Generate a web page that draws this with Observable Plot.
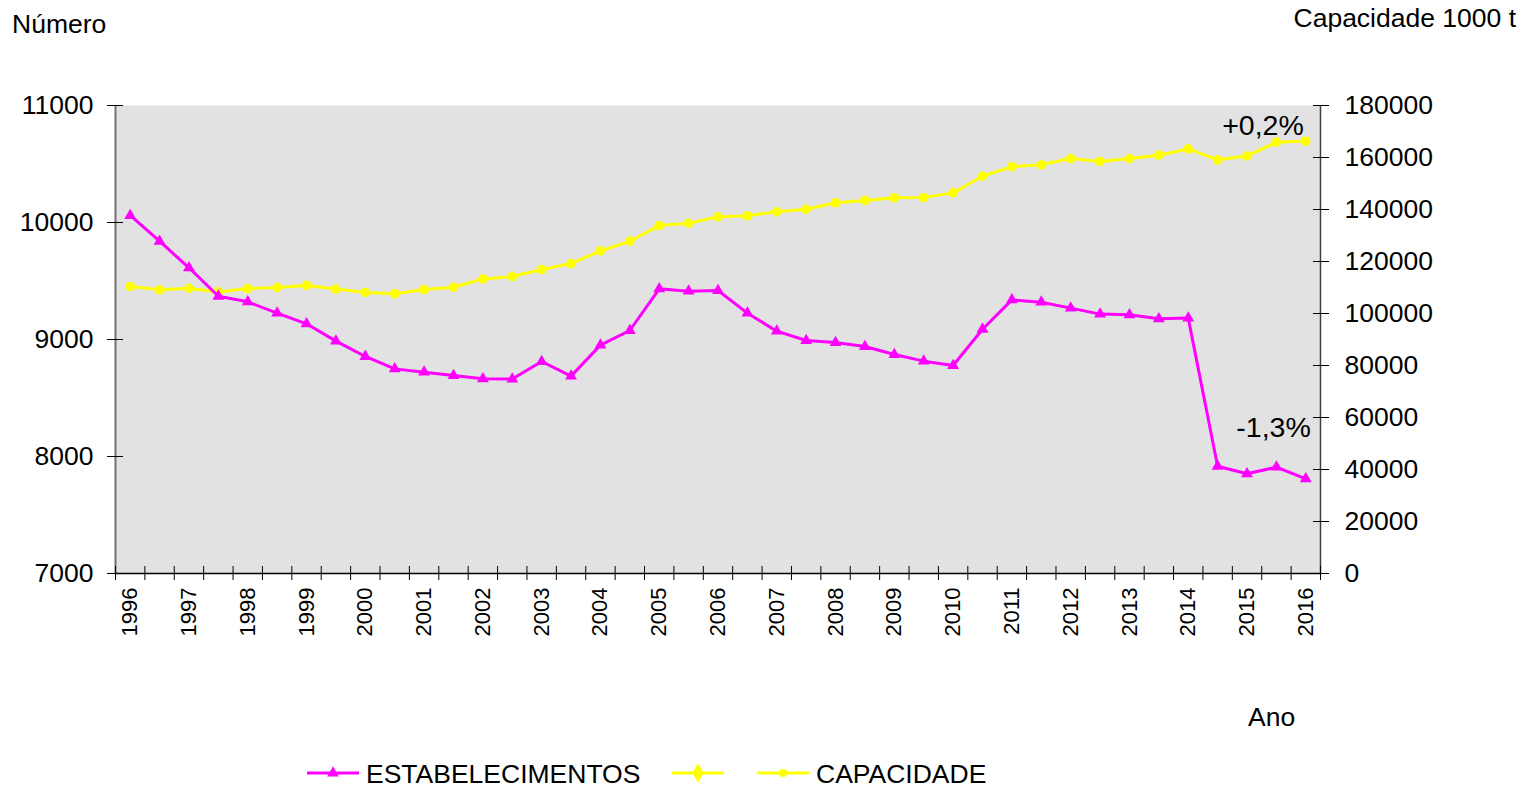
<!DOCTYPE html>
<html><head><meta charset="utf-8">
<script src="https://cdn.jsdelivr.net/npm/d3@7"></script>
<script src="https://cdn.jsdelivr.net/npm/@observablehq/plot@0.6"></script>
<style>
body{margin:0;background:#fff;font-family:"Liberation Sans",Arial,sans-serif;}
#wrap{position:relative;width:1537px;height:788px;overflow:hidden;background:#fff}
#wrap svg{position:absolute;left:0;top:0}
</style></head><body><div id="wrap"></div>
<script>
// Tick labels (one per year, every second semi-annual period)
const yearLabels = ["1996","1997","1998","1999","2000","2001","2002","2003","2004","2005","2006",
  "2007","2008","2009","2010","2011","2012","2013","2014","2015","2016"];
// Series: number of establishments (left axis)
const estabelecimentos = [10060, 9840, 9613, 9370, 9322, 9225, 9134, 8986, 8855, 8749, 8721,
  8692, 8664, 8662, 8812, 8687, 8952, 9077, 9433, 9413, 9419, 9225, 9071, 8991, 8974, 8940,
  8872, 8815, 8778, 9088, 9339, 9319, 9268, 9217, 9211, 9177, 9183, 7917, 7852, 7909, 7809];
// Series: capacity, 1000 t (right axis)
const capacidade = [110400, 109100, 109700, 108300, 109600, 110000, 110800, 109400, 108100, 107600, 109200,
  110100, 113300, 114200, 116900, 119200, 124100, 127800, 133800, 134700, 137200, 137600, 139100,
  140100, 142600, 143500, 144500, 144600, 146400, 152800, 156500, 157200, 159600, 158500, 159600,
  160900, 163300, 159100, 160600, 165900, 166300];
const leftTicks = [7000, 8000, 9000, 10000, 11000];
const rightTicks = [0, 20000, 40000, 60000, 80000, 100000, 120000, 140000, 160000, 180000];
const leftDomain = [7000, 11000];
const rightDomain = [0, 180000];
const seriesNames = ["ESTABELECIMENTOS", "", "CAPACIDADE"];
const annotations = ["-1,3%", "+0,2%"];

const toLeft = v => leftDomain[0] + (v - rightDomain[0]) * (leftDomain[1] - leftDomain[0]) / (rightDomain[1] - rightDomain[0]);
const fromLeft = d => Math.round(rightDomain[0] + (d - leftDomain[0]) * (rightDomain[1] - rightDomain[0]) / (leftDomain[1] - leftDomain[0]));

const n = estabelecimentos.length;
const idx = d3.range(n);
const boundaries = d3.range(n + 1).map(k => k - 0.5);
const labelIdx = yearLabels.map((_, k) => k * 2);
const capLeft = capacidade.map(toLeft);

const MAG = "#ff00ff", YEL = "#ffff00";
const FONT = '"Liberation Sans", Arial, sans-serif';
const FS = 26.5;

const chart = Plot.plot({
  width: 1537, height: 788,
  marginLeft: 115, marginRight: 217, marginTop: 105, marginBottom: 215,
  style: {fontFamily: FONT, fontSize: FS + "px", color: "#000", background: "transparent", overflow: "visible"},
  x: {type: "linear", domain: [-0.5, n - 0.5], label: null},
  y: {domain: leftDomain, label: null},
  marks: [
    Plot.frame({fill: "#e2e2e2", stroke: null}),
    Plot.ruleX([-0.5], {stroke: "#707070", strokeWidth: 2}),
    Plot.ruleX([n - 0.5], {stroke: "#404040", strokeWidth: 1.5}),
    Plot.ruleY([leftDomain[0]], {stroke: "#000", strokeWidth: 1.5}),
    Plot.axisY(leftTicks, {anchor: "left", label: null, tickSize: 8, tickPadding: 14, fontSize: FS, tickFormat: d => String(d)}),
    Plot.axisY(leftTicks, {anchor: "left", label: null, tickSize: 8, dx: 8, tickFormat: () => ""}),
    Plot.axisY(rightTicks.map(toLeft), {anchor: "right", label: null, tickSize: 8, tickPadding: 16, fontSize: FS, tickFormat: d => String(fromLeft(d))}),
    Plot.axisY(rightTicks.map(toLeft), {anchor: "right", label: null, tickSize: 8, dx: -8, tickFormat: () => ""}),
    Plot.axisX(boundaries, {anchor: "bottom", label: null, tickSize: 7, tickFormat: () => ""}),
    Plot.axisX(boundaries, {anchor: "bottom", label: null, tickSize: 7, dy: -7, tickFormat: () => ""}),
    Plot.axisX(labelIdx, {anchor: "bottom", label: null, tickSize: 0, tickPadding: 14, tickRotate: -90, fontSize: 22,
      tickFormat: i => yearLabels[Math.round(i / 2)]}),
    Plot.line(capLeft, {x: (d, i) => idx[i], y: d => d, stroke: YEL, strokeWidth: 3}),
    Plot.dot(capLeft, {x: (d, i) => idx[i], y: d => d, r: 4.8, fill: YEL, stroke: null}),
    Plot.line(estabelecimentos, {x: (d, i) => idx[i], y: d => d, stroke: MAG, strokeWidth: 3}),
    Plot.dot(estabelecimentos, {x: (d, i) => idx[i], y: d => d, symbol: "triangle", r: 4.4, fill: MAG, stroke: null}),
    Plot.text([annotations[0]], {x: [n - 1], y: [estabelecimentos[n - 1]], text: d => d, textAnchor: "end", dx: 5, dy: -51, fontSize: 28.5, fill: "#000"}),
    Plot.text([annotations[1]], {x: [n - 1], y: [capLeft[n - 1]], text: d => d, textAnchor: "end", dx: -2, dy: -15, fontSize: 28.5, fill: "#000"})
  ]
});
const wrap = document.getElementById("wrap");
wrap.appendChild(chart);

// Overlay: axis titles and legend
const ov = d3.select(wrap).append("svg").attr("width", 1537).attr("height", 788)
  .style("pointer-events", "none").attr("font-family", FONT).attr("font-size", FS);
ov.append("text").attr("x", 12).attr("y", 33).text("Número");
ov.append("text").attr("x", 1516).attr("y", 27).attr("text-anchor", "end").text("Capacidade 1000 t");
ov.append("text").attr("x", 1248).attr("y", 726).text("Ano");

const lg = ov.append("g");
const items = [
  {x: 307, color: MAG, sym: d3.symbolTriangle, size: 60, label: seriesNames[0]},
  {x: 672, color: YEL, sym: d3.symbolDiamond, size: 110, label: seriesNames[1]},
  {x: 757, color: YEL, sym: d3.symbolCircle, size: 55, label: seriesNames[2]}
];
items.forEach(it => {
  lg.append("line").attr("x1", it.x).attr("x2", it.x + 52).attr("y1", 773).attr("y2", 773)
    .attr("stroke", it.color).attr("stroke-width", 3);
  lg.append("path").attr("d", d3.symbol(it.sym, it.size)()).attr("transform", `translate(${it.x + 26},773)`)
    .attr("fill", it.color);
  if (it.label) lg.append("text").attr("x", it.x + 59).attr("y", 783).attr("font-size", 26.5).text(it.label);
});
</script></body></html>
